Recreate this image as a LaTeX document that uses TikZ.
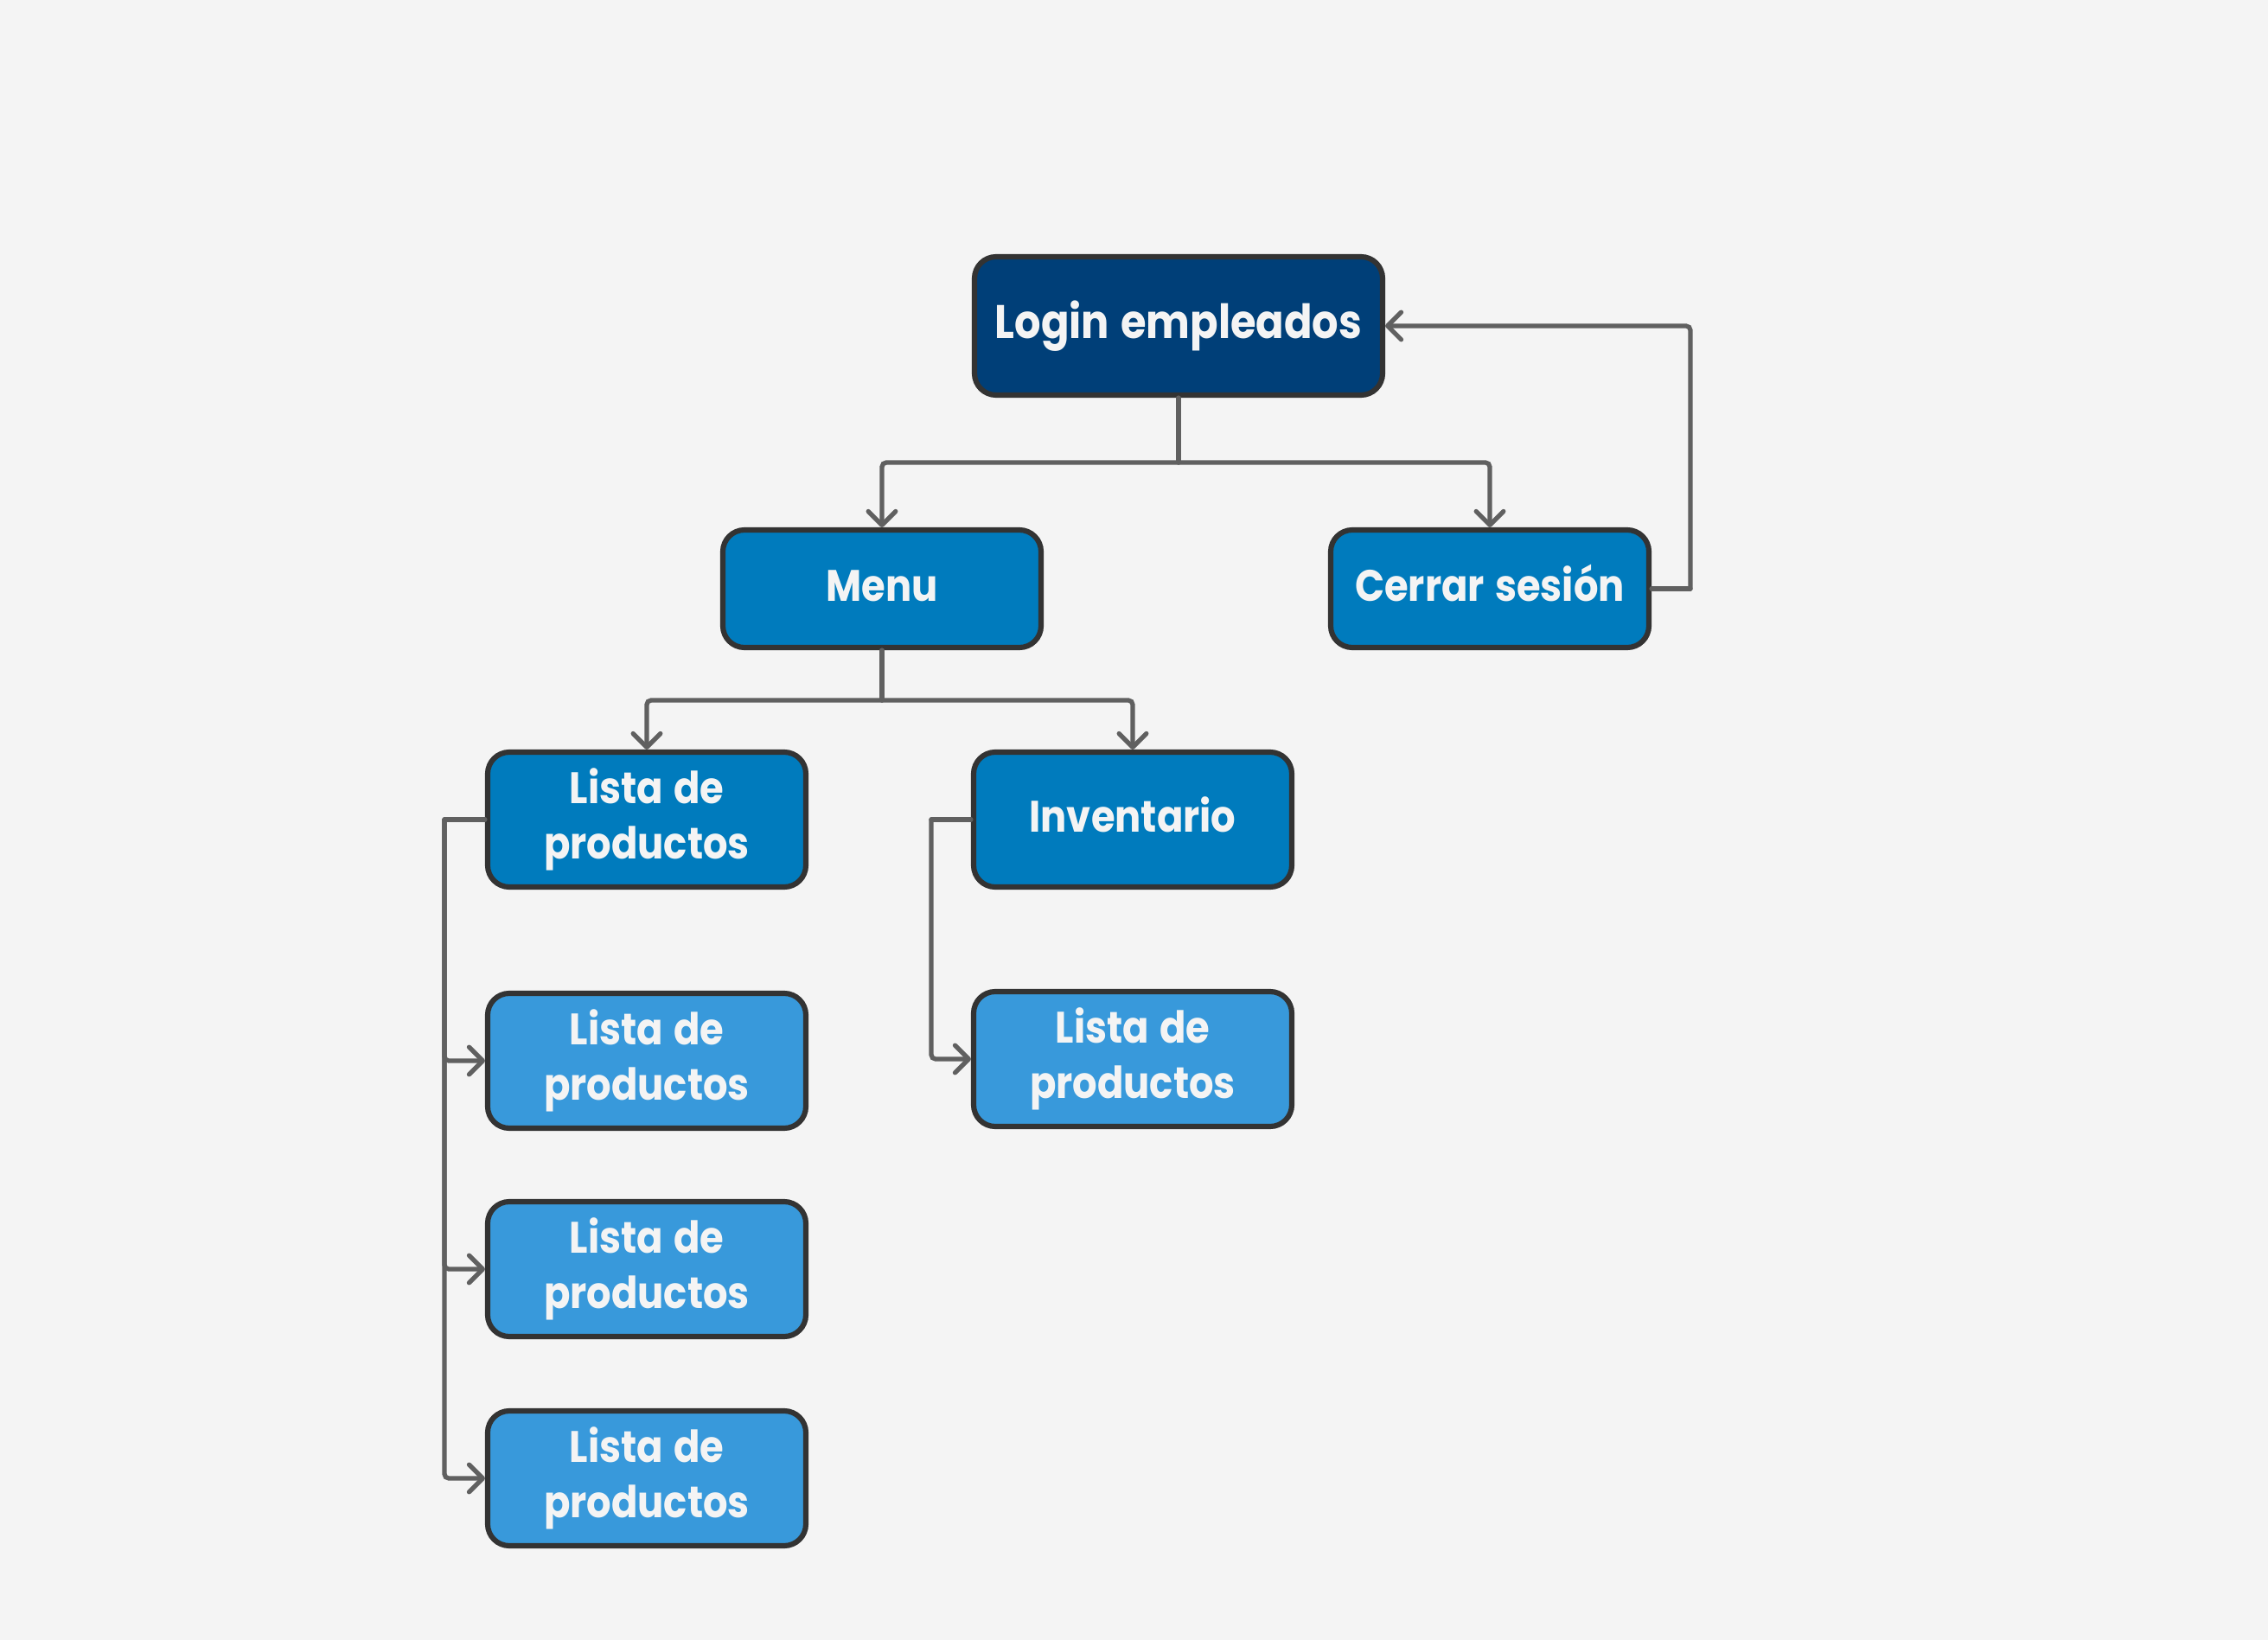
\documentclass[tikz,border=0pt]{standalone}
\usepackage{fontspec}
\setmainfont{Poppins}[UprightFont=*-Bold,BoldFont=*-Bold,FakeStretch=0.88,WordSpace=1.3]
\usetikzlibrary{arrows.meta}
\definecolor{bg}{HTML}{F4F4F4}
\definecolor{dark}{HTML}{003F78}
\definecolor{mid}{HTML}{007BBD}
\definecolor{light}{HTML}{3899DB}
\definecolor{edge}{HTML}{333333}
\definecolor{conncol}{HTML}{606060}
\definecolor{txt}{HTML}{F4F4F4}
\tikzset{
  box/.style={draw=edge, line width=1.75pt, rounded corners=0.25cm, text=txt,
    align=center, inner sep=0pt, font=\fontsize{14.5}{18.3}\selectfont},
  darkbox/.style={box, fill=dark, minimum width=4.72cm, minimum height=1.60cm, font=\fontsize{15.5}{19}\selectfont},
  midbox/.style={box, fill=mid, minimum width=3.68cm},
  lightbox/.style={box, fill=light, minimum width=3.68cm, minimum height=1.56cm},
  oneline/.style={text height=8.2pt, text depth=0pt},
  conn/.style={draw=conncol, line width=1.5pt, rounded corners=0.05cm, line cap=round},
  arr/.style={conn, -{Straight Barb[length=4.5pt,width=9pt,line cap=round,line join=round]}}
}
\begin{document}
\begin{tikzpicture}
\fill[bg] (0,0) rectangle (26.23,-18.97);
\useasboundingbox (0,0) rectangle (26.23,-18.97);
% coordinates
\coordinate (j1) at (13.63,-5.35);
\coordinate (j2) at (10.20,-8.10);
\coordinate (b1) at (5.14,-9.48);
\coordinate (b2) at (10.77,-9.48);
\coordinate (r1) at (19.55,-6.81);
% nodes
\node[darkbox] (login) at (13.63,-3.77) {Login empleados};
\node[midbox, oneline, minimum height=1.36cm] (menu) at (10.20,-6.81) {Menu};
\node[midbox, oneline, minimum height=1.36cm] (cerrar) at (17.23,-6.81) {Cerrar sesión};
\node[midbox, minimum height=1.56cm] (l1) at (7.48,-9.48) {Lista de\\productos};
\node[midbox, oneline, minimum height=1.56cm] (inv) at (13.10,-9.48) {Inventario};
\node[lightbox] (l2) at (7.48,-12.27) {Lista de\\productos};
\node[lightbox] (l3) at (7.48,-14.68) {Lista de\\productos};
\node[lightbox] (l4) at (7.48,-17.10) {Lista de\\productos};
\node[lightbox] (li) at (13.10,-12.25) {Lista de\\productos};
% connectors
\draw[conn] (login.south) -- (j1);
\draw[arr] (j1) -| (menu.north);
\draw[arr] (j1) -| (cerrar.north);
\draw[conn] (cerrar.east) -- (r1);
\draw[arr] (r1) |- (login.east);
\draw[conn] (menu.south) -- (j2);
\draw[arr] (j2) -| (l1.north);
\draw[arr] (j2) -| (inv.north);
\draw[conn] (l1.west) -- (b1);
\draw[arr] (b1) |- (l2.west);
\draw[arr] (b1) |- (l3.west);
\draw[arr] (b1) |- (l4.west);
\draw[conn] (inv.west) -- (b2);
\draw[arr] (b2) |- (li.west);
\end{tikzpicture}
\end{document}
